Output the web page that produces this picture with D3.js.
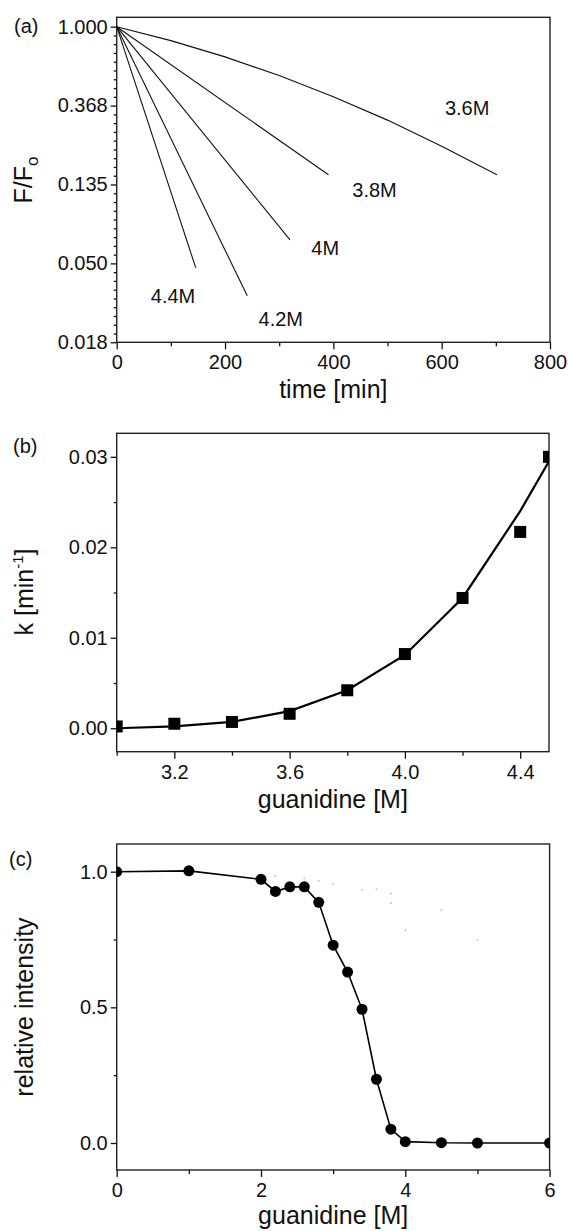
<!DOCTYPE html>
<html>
<head>
<meta charset="utf-8">
<script src="https://cdn.jsdelivr.net/npm/d3@7"></script>
<style>
  html, body { margin: 0; padding: 0; background: #fff; }
  svg { display: block; }
  text { font-family: "Liberation Sans", Arial, sans-serif; fill: #111; }
</style>
</head>
<body>
<svg id="chart" width="568" height="1231"></svg>
<script>
// ---------------- DATA ----------------
// Panel (a): fluorescence decay F/Fo vs time
const timeTicks = [0, 200, 400, 600, 800];
const timeMinor = [100, 300, 500, 700];
const fTickValues = [1, 0.36788, 0.13534, 0.04979, 0.01832];
const fTickLabels = ["1.000", "0.368", "0.135", "0.050", "0.018"];
const curveNames = ["3.6M", "3.8M", "4M", "4.2M", "4.4M"];
const time36 = [0, 100, 200, 300, 400, 500, 600, 702];
const ratio36 = [1, 0.838, 0.682, 0.538, 0.411, 0.306, 0.220, 0.153];
const time38 = [0, 391];
const ratio38 = [1, 0.153];
const time40 = [0, 320];
const ratio40 = [1, 0.067];
const time42 = [0, 241];
const ratio42 = [1, 0.033];
const time44 = [0, 146];
const ratio44 = [1, 0.047];
// label anchors (time, F/Fo) for the curve names
const nameTime = [647, 476, 385, 303, 104];
const nameRatio = [0.327, 0.116, 0.0554, 0.0224, 0.0301];

// Panel (b): rate constant vs guanidine
const gdnB = [3.0, 3.2, 3.4, 3.6, 3.8, 4.0, 4.2, 4.4, 4.5];
const kObs = [0.0002, 0.0005, 0.0007, 0.0016, 0.0042, 0.0082, 0.0144, 0.0217, 0.0300];
const kFit = [0.0000, 0.0002, 0.0007, 0.0019, 0.0042, 0.0081, 0.0144, 0.0240, 0.0295];
const gdnBTicks = [3.2, 3.6, 4.0, 4.4];
const gdnBMinor = [3.0, 3.4, 3.8, 4.2];
const kTicks = [0, 0.01, 0.02, 0.03];
const kTickLabels = ["0.00", "0.01", "0.02", "0.03"];
const kMinor = [0.005, 0.015, 0.025];

// Panel (c): relative intensity vs guanidine
const gdnC = [0, 1, 2, 2.2, 2.4, 2.6, 2.8, 3.0, 3.2, 3.4, 3.6, 3.8, 4.0, 4.5, 5.0, 6.0];
const relInt = [1.0, 1.003, 0.972, 0.927, 0.944, 0.944, 0.887, 0.729, 0.630, 0.493, 0.235, 0.051, 0.005, 0.001, 0.0, 0.0];
const ghostX = [2.2, 2.6, 2.8, 3.0, 3.4, 3.6, 3.8, 3.8, 4.0, 4.5, 5.0];
const ghostY = [0.985, 0.975, 0.967, 0.955, 0.933, 0.935, 0.92, 0.884, 0.785, 0.859, 0.748];
const gdnCTicks = [0, 2, 4, 6];
const gdnCMinor = [1, 3, 5];
const relTicks = [0, 0.5, 1.0];
const relTickLabels = ["0.0", "0.5", "1.0"];
const relMinor = [0.25, 0.75];

// ---------------- DRAW ----------------
const svg = d3.select("#chart");
svg.append("rect").attr("width", 568).attr("height", 1231).attr("fill", "#fff");

const L = 116.7, R = 550;
const TICK_FONT = 20, TITLE_FONT = 25;

function drawAxes(x, y, o) {
  const g = svg.append("g");
  const [y0, y1] = y.range();
  const [x0, x1] = x.range();
  // minor ticks
  g.append("g").attr("transform", `translate(0,${y0})`)
    .call(d3.axisBottom(x).tickValues(o.xMinor).tickFormat("").tickSize(4).tickSizeOuter(0))
    .call(s => s.select(".domain").remove());
  g.append("g").attr("transform", `translate(${x0},0)`)
    .call(d3.axisLeft(y).tickValues(o.yMinor).tickFormat("").tickSize(3).tickSizeOuter(0))
    .call(s => s.select(".domain").remove());
  // major ticks
  const xa = g.append("g").attr("transform", `translate(0,${y0})`)
    .call(d3.axisBottom(x).tickValues(o.xTicks).tickFormat((d, i) => o.xLabels[i]).tickSize(7).tickPadding(6).tickSizeOuter(0));
  xa.select(".domain").remove();
  const ya = g.append("g").attr("transform", `translate(${x0},0)`)
    .call(d3.axisLeft(y).tickValues(o.yTicks).tickFormat((d, i) => o.yLabels[i]).tickSize(6).tickPadding(3).tickSizeOuter(0));
  ya.select(".domain").remove();
  g.selectAll(".tick line").attr("stroke", "#111").attr("stroke-width", 1.3);
  g.selectAll(".tick text").attr("font-size", TICK_FONT).attr("fill", "#111")
    .attr("font-family", "Liberation Sans, Arial, sans-serif");
  // frame
  g.append("rect").attr("x", x0).attr("y", y1).attr("width", x1 - x0).attr("height", y0 - y1)
    .attr("fill", "none").attr("stroke", "#222").attr("stroke-width", 1.4);
  return g;
}

// ---------- Panel (a) ----------
const xa = d3.scaleLinear().domain([0, 800]).range([L, R]);
const ya = d3.scaleLog().base(Math.E).domain([Math.exp(-4), Math.exp(0.119)]).range([342.3, 17.3]);
const aMinor = [];
for (let i = 0; i < 4; i++) for (let j = 1; j < 9; j++) aMinor.push(Math.exp(-(i + j / 9)));
drawAxes(xa, ya, {
  xTicks: timeTicks, xLabels: timeTicks.map(String), xMinor: timeMinor,
  yTicks: fTickValues, yLabels: fTickLabels, yMinor: aMinor
});
const lineA = d3.line().x(d => xa(d[0])).y(d => ya(d[1]));
const seriesA = [
  d3.zip(time36, ratio36), d3.zip(time38, ratio38), d3.zip(time40, ratio40),
  d3.zip(time42, ratio42), d3.zip(time44, ratio44)
];
svg.append("g").selectAll("path").data(seriesA).join("path")
  .attr("d", lineA).attr("fill", "none").attr("stroke", "#111").attr("stroke-width", 1.1);
svg.append("g").selectAll("text").data(curveNames).join("text")
  .attr("x", (d, i) => xa(nameTime[i])).attr("y", (d, i) => ya(nameRatio[i]))
  .attr("text-anchor", "middle").attr("font-size", 20).text(d => d);
svg.append("text").attr("x", 14).attr("y", 33).attr("font-size", 20).text("(a)");
svg.append("text").attr("x", (L + R) / 2).attr("y", 398).attr("text-anchor", "middle")
  .attr("font-size", TITLE_FONT).text("time [min]");
{
  const t = svg.append("text").attr("transform", `translate(32,180) rotate(-90)`)
    .attr("text-anchor", "middle").attr("font-size", TITLE_FONT);
  t.append("tspan").text("F/F");
  t.append("tspan").attr("dy", 6).attr("font-size", 17).text("o");
}

// ---------- Panel (b) ----------
const xb = d3.scaleLinear().domain([3.0, 4.5]).range([L, 549]);
const yb = d3.scaleLinear().domain([-0.00259, 0.0326]).range([751.7, 433.3]);
drawAxes(xb, yb, {
  xTicks: gdnBTicks, xLabels: gdnBTicks.map(d => d.toFixed(1)), xMinor: gdnBMinor,
  yTicks: kTicks, yLabels: kTickLabels, yMinor: kMinor
});
svg.append("clipPath").attr("id", "clipB").append("rect")
  .attr("x", L).attr("y", 433.3).attr("width", 549 - L).attr("height", 751.7 - 433.3);
const gb = svg.append("g").attr("clip-path", "url(#clipB)");
gb.append("path").datum(d3.zip(gdnB, kFit))
  .attr("d", d3.line().x(d => xb(d[0])).y(d => yb(d[1])))
  .attr("fill", "none").attr("stroke", "#000").attr("stroke-width", 2.2);
gb.selectAll("rect.pt").data(d3.zip(gdnB, kObs)).join("rect").attr("class", "pt")
  .attr("x", d => xb(d[0]) - 6).attr("y", d => yb(d[1]) - 6)
  .attr("width", 12).attr("height", 12).attr("fill", "#000");
svg.append("text").attr("x", 13).attr("y", 453).attr("font-size", 20).text("(b)");
svg.append("text").attr("x", (L + 549) / 2).attr("y", 808).attr("text-anchor", "middle")
  .attr("font-size", TITLE_FONT).text("guanidine [M]");
{
  const t = svg.append("text").attr("transform", `translate(33,592) rotate(-90)`)
    .attr("text-anchor", "middle").attr("font-size", TITLE_FONT);
  t.append("tspan").text("k [min");
  t.append("tspan").attr("dy", -10).attr("font-size", 15).text("-1");
  t.append("tspan").attr("dy", 10).text("]");
}

// ---------- Panel (c) ----------
const xc = d3.scaleLinear().domain([0, 6]).range([L, 549.6]);
const yc = d3.scaleLinear().domain([-0.0995, 1.102]).range([1170, 844]);
drawAxes(xc, yc, {
  xTicks: gdnCTicks, xLabels: gdnCTicks.map(String), xMinor: gdnCMinor,
  yTicks: relTicks, yLabels: relTickLabels, yMinor: relMinor
});
svg.append("clipPath").attr("id", "clipC").append("rect")
  .attr("x", L).attr("y", 844).attr("width", 549.6 - L).attr("height", 1170 - 844);
const gc = svg.append("g").attr("clip-path", "url(#clipC)");
gc.selectAll("circle.ghost").data(d3.zip(ghostX, ghostY)).join("circle").attr("class", "ghost")
  .attr("cx", d => xc(d[0])).attr("cy", d => yc(d[1])).attr("r", 0.9).attr("fill", "#bbb");
gc.append("path").datum(d3.zip(gdnC, relInt))
  .attr("d", d3.line().x(d => xc(d[0])).y(d => yc(d[1])))
  .attr("fill", "none").attr("stroke", "#000").attr("stroke-width", 1.6);
gc.selectAll("circle.pt").data(d3.zip(gdnC, relInt)).join("circle").attr("class", "pt")
  .attr("cx", d => xc(d[0])).attr("cy", d => yc(d[1])).attr("r", 5.5).attr("fill", "#000");
svg.append("text").attr("x", 9).attr("y", 866).attr("font-size", 20).text("(c)");
svg.append("text").attr("x", (L + 549.6) / 2).attr("y", 1224).attr("text-anchor", "middle")
  .attr("font-size", TITLE_FONT).text("guanidine [M]");
svg.append("text").attr("transform", `translate(33,1007) rotate(-90)`)
  .attr("text-anchor", "middle").attr("font-size", TITLE_FONT).text("relative intensity");
</script>
</body>
</html>
